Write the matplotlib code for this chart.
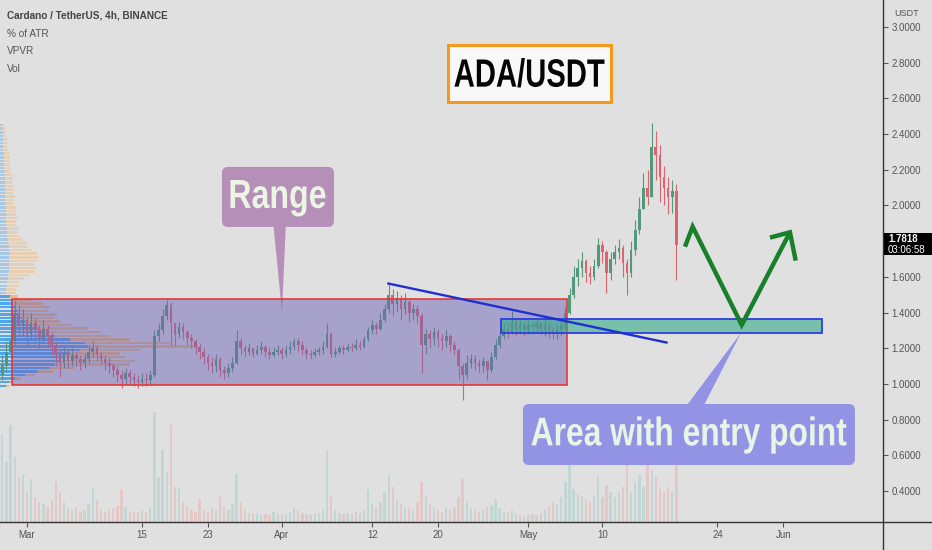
import numpy as np
import pandas as pd
import matplotlib
matplotlib.use("Agg")
import matplotlib.pyplot as plt
import matplotlib.dates as mdates
import matplotlib.transforms as mtrans
from matplotlib import font_manager as fm
from matplotlib.font_manager import FontProperties
from matplotlib.lines import Line2D
from matplotlib.patches import Rectangle, FancyBboxPatch, PathPatch
from matplotlib.textpath import TextPath
from datetime import datetime


def pick(names):
    for n in names:
        try:
            fm.findfont(fm.FontProperties(family=n), fallback_to_default=False)
            return n
        except Exception:
            pass
    return None


BASE = pick(["Liberation Sans", "Arimo", "DejaVu Sans"]) or "DejaVu Sans"
plt.rcParams["font.family"] = [BASE, "DejaVu Sans"]
BOLD = FontProperties(family=BASE, weight="bold")

BG = "#e0e0e0"

# ---------------- data (12h candles, ADA/USDT) ----------------
start = "2021-02-25 12:00"
close = [1.05, 1.10, 1.18, 1.24, 1.40, 1.33, 1.36, 1.28, 1.34, 1.30,
         1.26, 1.31, 1.27, 1.22, 1.16, 1.12, 1.17, 1.13, 1.16, 1.14,
         1.12, 1.14, 1.18, 1.20, 1.16, 1.14, 1.12, 1.10, 1.08, 1.05,
         1.03, 1.06, 1.04, 1.02, 1.01, 1.03, 1.02, 1.05, 1.27, 1.30,
         1.38, 1.44, 1.34, 1.28, 1.32, 1.29, 1.26, 1.24, 1.21, 1.18,
         1.15, 1.12, 1.10, 1.14, 1.08, 1.06, 1.09, 1.12, 1.24, 1.20,
         1.18, 1.20, 1.17, 1.19, 1.21, 1.18, 1.16, 1.18, 1.19, 1.17,
         1.19, 1.21, 1.24, 1.22, 1.19, 1.17, 1.16, 1.18, 1.19, 1.21,
         1.28, 1.17, 1.18, 1.20, 1.19, 1.21, 1.20, 1.22, 1.21, 1.25,
         1.30, 1.33, 1.31, 1.36, 1.42, 1.50, 1.45, 1.48, 1.42, 1.46,
         1.40, 1.42, 1.38, 1.22, 1.28, 1.25, 1.29, 1.26, 1.24, 1.27,
         1.22, 1.19, 1.10, 1.05, 1.12, 1.14, 1.12, 1.10, 1.13, 1.08,
         1.15, 1.22, 1.27, 1.31, 1.29, 1.35, 1.31, 1.33, 1.30, 1.33,
         1.32, 1.34, 1.31, 1.33, 1.30, 1.28, 1.30, 1.33, 1.40, 1.50,
         1.60, 1.65, 1.69, 1.62, 1.60, 1.66, 1.78, 1.74, 1.62, 1.70,
         1.74, 1.76, 1.68, 1.62, 1.75, 1.86, 1.98, 2.10, 2.05, 2.33,
         2.28, 2.16, 2.10, 2.05, 2.08, 1.78]
high = [1.12, 1.16, 1.24, 1.30, 1.47, 1.44, 1.42, 1.38, 1.40, 1.37,
        1.33, 1.36, 1.33, 1.29, 1.24, 1.19, 1.21, 1.19, 1.20, 1.18,
        1.16, 1.17, 1.22, 1.24, 1.22, 1.18, 1.16, 1.15, 1.12, 1.10,
        1.08, 1.09, 1.08, 1.06, 1.05, 1.06, 1.06, 1.08, 1.30, 1.34,
        1.42, 1.47, 1.46, 1.34, 1.35, 1.34, 1.30, 1.28, 1.25, 1.23,
        1.20, 1.17, 1.15, 1.17, 1.15, 1.10, 1.12, 1.15, 1.30, 1.26,
        1.22, 1.23, 1.21, 1.22, 1.24, 1.22, 1.20, 1.21, 1.22, 1.21,
        1.22, 1.24, 1.26, 1.26, 1.24, 1.21, 1.19, 1.20, 1.21, 1.24,
        1.34, 1.29, 1.21, 1.22, 1.22, 1.23, 1.23, 1.25, 1.24, 1.27,
        1.32, 1.36, 1.35, 1.40, 1.45, 1.56, 1.53, 1.52, 1.50, 1.51,
        1.47, 1.45, 1.44, 1.40, 1.31, 1.30, 1.32, 1.31, 1.28, 1.30,
        1.28, 1.24, 1.20, 1.12, 1.16, 1.17, 1.16, 1.14, 1.15, 1.13,
        1.18, 1.25, 1.30, 1.34, 1.34, 1.41, 1.37, 1.36, 1.35, 1.36,
        1.35, 1.37, 1.35, 1.36, 1.34, 1.32, 1.33, 1.36, 1.43, 1.54,
        1.66, 1.70, 1.74, 1.70, 1.66, 1.70, 1.82, 1.80, 1.75, 1.74,
        1.78, 1.81, 1.78, 1.70, 1.80, 1.92, 2.05, 2.18, 2.20, 2.46,
        2.42, 2.34, 2.22, 2.16, 2.14, 2.12]
low = [0.99, 1.02, 1.07, 1.15, 1.22, 1.28, 1.27, 1.22, 1.25, 1.24,
       1.20, 1.23, 1.21, 1.16, 1.10, 1.04, 1.09, 1.09, 1.10, 1.10,
       1.08, 1.09, 1.12, 1.15, 1.13, 1.11, 1.08, 1.06, 1.04, 1.01,
       0.98, 1.00, 1.00, 0.99, 0.98, 0.99, 0.99, 1.00, 1.04, 1.24,
       1.28, 1.36, 1.22, 1.22, 1.26, 1.25, 1.22, 1.20, 1.17, 1.14,
       1.11, 1.08, 1.06, 1.07, 1.04, 1.03, 1.04, 1.07, 1.11, 1.16,
       1.15, 1.16, 1.15, 1.16, 1.17, 1.15, 1.14, 1.15, 1.16, 1.14,
       1.15, 1.17, 1.19, 1.18, 1.16, 1.14, 1.14, 1.15, 1.16, 1.17,
       1.20, 1.15, 1.15, 1.17, 1.17, 1.18, 1.18, 1.19, 1.19, 1.20,
       1.24, 1.28, 1.28, 1.30, 1.35, 1.40, 1.38, 1.41, 1.36, 1.39,
       1.35, 1.36, 1.34, 1.06, 1.17, 1.20, 1.22, 1.21, 1.19, 1.21,
       1.18, 1.16, 1.03, 0.91, 1.03, 1.09, 1.08, 1.07, 1.07, 1.02,
       1.07, 1.14, 1.20, 1.25, 1.26, 1.28, 1.27, 1.28, 1.27, 1.28,
       1.28, 1.29, 1.28, 1.27, 1.26, 1.25, 1.25, 1.27, 1.31, 1.39,
       1.48, 1.55, 1.60, 1.57, 1.56, 1.58, 1.65, 1.68, 1.51, 1.58,
       1.67, 1.70, 1.60, 1.50, 1.60, 1.72, 1.84, 1.98, 2.00, 2.05,
       2.14, 2.02, 2.00, 1.95, 1.96, 1.58]
volume = [40, 88, 60, 97, 65, 45, 48, 30, 43, 25,
          20, 18, 15, 22, 40, 30, 20, 14, 12, 15,
          10, 12, 18, 35, 22, 12, 10, 12, 14, 16,
          32, 15, 10, 11, 9, 12, 10, 14, 110, 45,
          72, 50, 97, 35, 35, 20, 15, 12, 10, 23,
          12, 10, 14, 12, 25, 15, 12, 18, 48, 20,
          12, 9, 8, 9, 7, 8, 7, 10, 8, 7,
          8, 10, 14, 12, 9, 8, 7, 8, 9, 12,
          72, 25, 12, 9, 8, 9, 8, 10, 9, 12,
          32, 18, 14, 20, 30, 48, 35, 22, 18, 15,
          14, 12, 20, 40, 25, 18, 14, 12, 10, 14,
          12, 15, 25, 43, 20, 14, 12, 10, 12, 15,
          17, 23, 14, 10, 9, 12, 8, 7, 6, 7,
          8, 7, 9, 12, 15, 20, 18, 25, 40, 60,
          33, 28, 25, 22, 20, 27, 45, 25, 37, 30,
          25, 30, 35, 63, 30, 40, 47, 35, 60, 52,
          45, 33, 30, 35, 30, 63]

# volume profile (visible range), rows of 0.02 starting at 0.98
vp_start, vp_step = 0.98, 0.02
vp_up = [6, 10, 15, 25, 38, 50, 55, 60, 65, 70, 80, 88, 85, 70, 55, 45, 38, 30,
         25, 22, 20, 18, 15, 13, 12, 10,
         6, 6, 7, 7, 8, 8, 9, 9, 9, 9, 9, 10, 9, 9, 8, 8, 7, 7, 7, 6, 6, 6,
         6, 6, 6, 5, 5, 5, 5, 5, 5, 5, 5, 5, 4, 4, 4, 4, 4, 4, 3, 3, 3, 3,
         3, 3, 2, 2]
vp_down = [3, 4, 6, 10, 15, 25, 75, 75, 60, 50, 60, 110, 85, 60, 55, 55, 50, 42,
           35, 32, 37, 30, 35, 30, 20, 8,
           10, 10, 12, 12, 16, 22, 26, 28, 25, 28, 30, 27, 22, 18, 20, 14, 12, 10,
           11, 9, 10, 12, 10, 9, 10, 8, 9, 10, 8, 8, 9, 7, 8, 7, 6, 7, 6, 5,
           6, 5, 5, 4, 5, 4, 3, 3, 3, 2]
value_area = (0.98, 1.50)

price_ticks = [0.4, 0.6, 0.8, 1.0, 1.2, 1.4, 1.6, 2.0, 2.2, 2.4, 2.6, 2.8, 3.0]
date_ticks = ["2021-03-01", "2021-03-15", "2021-03-23", "2021-04-01", "2021-04-12",
              "2021-04-20", "2021-05-01", "2021-05-10", "2021-05-24", "2021-06-01"]
date_labels = ["Mar", "15", "23", "Apr", "12", "20", "May", "10", "24", "Jun"]
last_price = 1.7818
countdown = "03:06:58"

# drawings (days after 2021-03-01, price)
range_box = (-1.83, 65.7, 0.994, 1.476)
entry_box = (57.7, 96.7, 1.284, 1.364)
trend_line = [(43.83, 1.564), (77.94, 1.231)]
path_days = [80.05, 80.98, 86.95, 92.82]
path_prices = [1.769, 1.881, 1.331, 1.850]
head_days = [90.39, 92.82, 93.52]
head_prices = [1.820, 1.850, 1.691]
range_label = (30.53, 2.048)
range_pointer = [(29.93, 1.915), (31.51, 1.915), (31.02, 1.403)]
area_label = (80.53, 0.717)
area_pointer = [(79.93, 0.86), (82.12, 0.86), (86.86, 1.286)]
title_label = (61.13, 2.742)

# ---------------- figure ----------------
fig = plt.figure(figsize=(9.32, 5.5), dpi=100, facecolor=BG)
ax = fig.add_axes([0, 28 / 550, 883 / 932, 522 / 550])
ax_vol = ax.twinx()
ax_vp = ax.twiny()
ax.set_zorder(3)
ax_vp.set_zorder(2)
ax_vol.set_zorder(1)
for a in (ax, ax_vol, ax_vp):
    a.patch.set_visible(False)
    for s in a.spines.values():
        s.set_visible(False)

n = min(len(close), len(high), len(low), len(volume))
times = pd.date_range(start, periods=n, freq="12h")
x = mdates.date2num(times.to_pydatetime())
c = np.array(close[:n])
o = np.concatenate([[c[0]], c[:-1]])
h = np.maximum(np.array(high[:n]), np.maximum(o, c))
l = np.minimum(np.array(low[:n]), np.minimum(o, c))
up = c >= o

base0 = mdates.date2num(datetime(2021, 3, 1))
xmin, xmax = base0 - 3.285, base0 + 104.14
ymin, ymax = 0.227, 3.151
ax.set_xlim(xmin, xmax)
ax.set_ylim(ymin, ymax)

UPC, DNC = "#53987a", "#dc646e"
cols = np.where(up, UPC, DNC)
ax.vlines(x, l, h, colors=cols, lw=0.8, zorder=2)
body = np.where(np.abs(c - o) < 0.004, 0.004, c - o)
ax.bar(x, body, bottom=o, width=0.32, color=cols, linewidth=0, zorder=2.5)

# volume
vcols = [(0.15, 0.65, 0.6, 0.16) if u else (0.94, 0.33, 0.31, 0.16) for u in up]
ax_vol.bar(x, volume[:n], width=0.28, color=vcols, linewidth=0)
ax_vol.set_ylim(0, 522)
ax_vol.set_yticks([])
ax_vol.set_xlim(xmin, xmax)

# volume profile
nvp = min(len(vp_up), len(vp_down))
centers = vp_start + vp_step * (np.arange(nvp) + 0.5)
inva = (centers >= value_area[0]) & (centers <= value_area[1])
upw = np.array(vp_up[:nvp], float)
dnw = np.array(vp_down[:nvp], float)
for mask, a_up, a_dn in ((inva, 0.9, 0.8), (~inva, 0.35, 0.35)):
    ax_vp.barh(centers[mask], upw[mask], left=0, height=vp_step * 0.7,
               color="#3f9ff0", alpha=a_up, linewidth=0)
    ax_vp.barh(centers[mask], dnw[mask], left=upw[mask], height=vp_step * 0.7,
               color="#f2b266", alpha=a_dn, linewidth=0)
ax_vp.set_xlim(0, 883)
ax_vp.set_ylim(ymin, ymax)
ax_vp.set_xticks([])

# range box
rx0, rx1, ry0, ry1 = range_box
ax.add_patch(Rectangle((base0 + rx0, ry0), rx1 - rx0, ry1 - ry0,
                       facecolor=(0.44, 0.40, 0.72, 0.5), edgecolor="#e53935",
                       lw=1.2, zorder=4))
ax.fill([base0 + p[0] for p in range_pointer], [p[1] for p in range_pointer],
        color="#b68fb9", lw=0, zorder=3.8)

# entry box
ex0, ex1, ey0, ey1 = entry_box
ax.add_patch(Rectangle((base0 + ex0, ey0), ex1 - ex0, ey1 - ey0,
                       facecolor=(0.2, 0.67, 0.54, 0.6), edgecolor="#2e3de0",
                       lw=1.3, zorder=5))

# trend line
ax.plot([base0 + p[0] for p in trend_line], [p[1] for p in trend_line],
        color="#1f2fd0", lw=1.7, zorder=6, solid_capstyle="butt")

# area pointer
ax.fill([base0 + p[0] for p in area_pointer], [p[1] for p in area_pointer],
        color="#9393e6", lw=0, zorder=6.5)

# green projection
GREEN = "#18802b"
ax.plot([base0 + d for d in path_days], path_prices, color=GREEN, lw=3.2,
        zorder=7, solid_joinstyle="miter", solid_capstyle="butt")
ax.plot([base0 + d for d in head_days], head_prices, color=GREEN, lw=3.2,
        zorder=7, solid_joinstyle="miter", solid_capstyle="butt")


# callouts: box (pixels) centred on a time/price anchor, condensed bold text
def callout(anchor, box_w, box_h, text, em, ink_w, dy, tcolor, fc, ec="none",
            lw=0.0, rs=6, z=8):
    cx, cy = ax.transData.transform((base0 + anchor[0], anchor[1]))
    style = f"round,pad=0,rounding_size={rs}" if rs else "square,pad=0"
    ax.add_artist(FancyBboxPatch((cx - box_w / 2, cy - box_h / 2), box_w, box_h,
                                 boxstyle=style, fc=fc, ec=ec, lw=lw,
                                 transform=mtrans.IdentityTransform(),
                                 zorder=z, clip_on=False))
    tp = TextPath((0, 0), text, size=em, prop=BOLD)
    bb = tp.get_extents()
    sx = ink_w / bb.width
    cap = 0.716 * em
    tr = (mtrans.Affine2D().translate(-(bb.x0 + bb.x1) / 2, 0).scale(sx, 1)
          .translate(cx, cy - cap / 2 + dy))
    ax.add_artist(PathPatch(tp, fc=tcolor, ec="none", transform=tr,
                            zorder=z + 0.1, clip_on=False))


callout(range_label, 112, 60, "Range", 40.5, 95, 3.5, "#eaf5e4", "#b68fb9")
callout(area_label, 332, 61, "Area with entry point", 40, 315, 3.5, "#e6f5e6", "#9393e6")
callout(title_label, 163, 57, "ADA/USDT", 39.5, 150, 0.5, "#050505", "#f8f8f8",
        ec="#f39a1e", lw=2.2, rs=0, z=9)

# axes setup
ax.yaxis.tick_right()
ax.set_yticks(price_ticks)
ax.set_yticklabels([f"{p:.4f}" for p in price_ticks])
ax.set_xticks([mdates.date2num(pd.Timestamp(d).to_pydatetime()) for d in date_ticks])
ax.set_xticklabels(date_labels)
ax.tick_params(axis="both", direction="out", length=3.5, width=0.8, color="#555555",
               labelcolor="#555555", labelsize=7, pad=2.5)

# separators
fig.add_artist(Line2D([883 / 932, 883 / 932], [0, 1], color="#333333", lw=1.0,
                      transform=fig.transFigure))
fig.add_artist(Line2D([0, 1], [28 / 550, 28 / 550], color="#333333", lw=1.0,
                      transform=fig.transFigure))

# last price label
px_, py_ = ax.transData.transform((xmax, last_price))
ax.add_artist(Rectangle((px_ + 1, py_ - 11), 50, 22, fc="black", ec="none",
                        transform=mtrans.IdentityTransform(), zorder=10, clip_on=False))
ax.text(px_ + 5, py_ + 5, f"{last_price:.4f}", transform=mtrans.IdentityTransform(),
        color="white", fontsize=7, fontweight="bold", ha="left", va="center",
        zorder=11, clip_on=False)
ax.text(px_ + 5, py_ - 5.5, countdown, transform=mtrans.IdentityTransform(),
        color="white", fontsize=7, ha="left", va="center", zorder=11, clip_on=False)

# header texts
fig.text(907 / 932, 1 - 14 / 550, "USDT", ha="center", va="center", color="#555555",
         fontsize=6.5)
fig.text(7 / 932, 1 - 16 / 550, "Cardano / TetherUS, 4h, BINANCE", ha="left",
         va="center", color="#444444", fontsize=7.2, fontweight="bold")
for i, s in enumerate(["% of ATR", "VPVR", "Vol"]):
    fig.text(7 / 932, 1 - (34 + 17.5 * i) / 550, s, ha="left", va="center",
             color="#555555", fontsize=7.2)

fig.savefig("out.png", dpi=100, facecolor=BG)
